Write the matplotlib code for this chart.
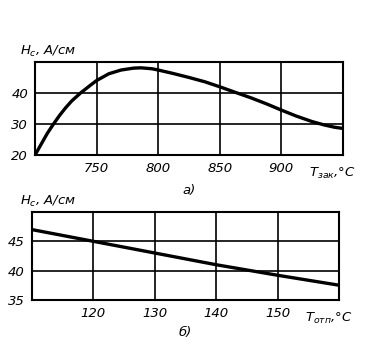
import matplotlib.pyplot as plt

# a) coercive force vs quenching temperature
t_zak = [700, 705, 710, 715, 720, 725, 730, 737, 745, 750, 760, 770, 780, 786, 795, 800,
         812, 825, 838, 850, 862, 875, 888, 900, 912, 925, 935, 943, 950]
hc_zak = [20, 23.5, 27, 30, 32.8, 35.3, 37.5, 40, 42.5, 44, 46.2, 47.4, 48, 48.1, 47.8, 47.4,
          46.3, 45, 43.6, 42, 40.3, 38.5, 36.5, 34.5, 32.6, 30.8, 29.7, 29, 28.6]
xt_a = [750, 800, 850, 900]
yt_a = [20, 30, 40]

# b) coercive force vs tempering temperature
t_otp = [110, 120, 130, 140, 150, 160]
hc_otp = [47, 45, 43, 41, 39.2, 37.5]
xt_b = [120, 130, 140, 150]
yt_b = [35, 40, 45]

fig = plt.figure(figsize=(3.76, 3.6), dpi=100)
plt.rcParams['mathtext.fontset'] = 'dejavusans'
fnt = dict(fontsize=9.5, style='italic', family='DejaVu Sans')

ax1 = fig.add_axes([0.093, 0.569, 0.819, 0.259])
ax1.plot(t_zak, hc_zak, color='black', lw=2.4, solid_capstyle='round')
ax1.set_xlim(700, 950)
ax1.set_ylim(20, 50)
ax1.set_xticks(xt_a)
ax1.set_yticks(yt_a)
ax1.set_xticklabels([str(v) for v in xt_a], **fnt)
ax1.set_yticklabels([str(v) for v in yt_a], **fnt)
ax1.grid(True, color='black', lw=1.2)
ax1.text(-0.05, 1.03, r'$H_c$, A/см', transform=ax1.transAxes, ha='left', va='bottom', **fnt)
ax1.text(0.89, -0.12, r'$T_{зак}$,°C', transform=ax1.transAxes, ha='left', va='top', **fnt)
ax1.text(0.5, -0.31, 'а)', transform=ax1.transAxes, ha='center', va='top', **fnt)

ax2 = fig.add_axes([0.085, 0.167, 0.817, 0.244])
ax2.plot(t_otp, hc_otp, color='black', lw=2.4)
ax2.set_xlim(110, 160)
ax2.set_ylim(35, 50)
ax2.set_xticks(xt_b)
ax2.set_yticks(yt_b)
ax2.set_xticklabels([str(v) for v in xt_b], **fnt)
ax2.set_yticklabels([str(v) for v in yt_b], **fnt)
ax2.grid(True, color='black', lw=1.2)
ax2.text(-0.04, 1.03, r'$H_c$, A/см', transform=ax2.transAxes, ha='left', va='bottom', **fnt)
ax2.text(0.89, -0.12, r'$T_{отп}$,°C', transform=ax2.transAxes, ha='left', va='top', **fnt)
ax2.text(0.5, -0.3, 'б)', transform=ax2.transAxes, ha='center', va='top', **fnt)

for ax in (ax1, ax2):
    for s in ax.spines.values():
        s.set_linewidth(1.5)
    ax.tick_params(length=0, pad=5)

fig.savefig('out.png', dpi=100)
